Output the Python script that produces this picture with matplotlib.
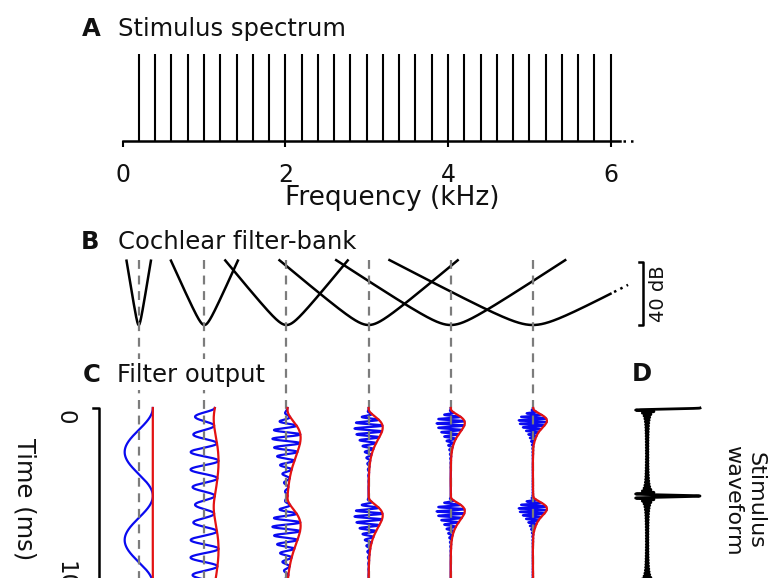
"""Harmonic complex through a cochlear filter-bank: spectrum, filters, channel outputs."""

import numpy as np
import matplotlib
import matplotlib.pyplot as plt

matplotlib.use("Agg")
plt.rcParams["font.family"] = "DejaVu Sans"

W, H = 768, 578

# Stimulus: harmonics of 200 Hz, equal level (kHz)
HARMONICS_KHZ = [0.2, 0.4, 0.6, 0.8, 1.0, 1.2, 1.4, 1.6, 1.8, 2.0,
                 2.2, 2.4, 2.6, 2.8, 3.0, 3.2, 3.4, 3.6, 3.8, 4.0,
                 4.2, 4.4, 4.6, 4.8, 5.0, 5.2, 5.4, 5.6, 5.8, 6.0]
SPECTRUM_LEVEL = 1.0
FREQ_TICKS = [0, 2, 4, 6]

# Filter-bank channels
FILTER_CF_KHZ = [0.2, 1.0, 2.0, 3.0, 4.0, 5.0]
FILTER_HALFWIDTH_KHZ = [0.146, 0.40, 0.73, 1.06, 1.36, 1.70]   # half-width at 40 dB
GAMMATONE_BW_KHZ = [0.047, 0.135, 0.28, 0.43, 0.56, 0.68]
LAST_ARM_END_KHZ = 5.96
SCALE_BAR_DB = 40

TIME_RANGE_MS = [0, 10]

BLUE = "#0a0af0"
RED = "#e31212"
GRAY = "#7c7c7c"
INK = "#111111"


def add_axes_px(fig, left, top, right, bottom):
    ax = fig.add_axes([left / W, 1 - bottom / H, (right - left) / W, (bottom - top) / H])
    ax.patch.set_visible(False)
    return ax


def span(lo_px, hi_px, origin_px, px_per_unit):
    return (lo_px - origin_px) / px_per_unit, (hi_px - origin_px) / px_per_unit


def filter_shape(f, cf, hw, e=0.15):
    u = (f - cf) / hw
    return SCALE_BAR_DB * (np.sqrt(u ** 2 + e ** 2) - e) / (np.sqrt(1 + e ** 2) - e)


def filter_output(cf, bw, t):
    """Steady-state gammatone response to the harmonic complex."""
    f = np.asarray(HARMONICS_KHZ)
    gain = (1 + 1j * (f - cf) / bw) ** -4
    z = (gain[:, None] * np.exp(2j * np.pi * (f - cf)[:, None] * t[None, :])).sum(axis=0)
    wave = np.real(z * np.exp(2j * np.pi * cf * t))
    return wave, np.abs(z)


fig = plt.figure(figsize=(W / 100, H / 100), dpi=100)


def fig_text(x, y, s, **kw):
    return fig.text(x / W, 1 - y / H, s, **kw)


# ── A: stimulus spectrum ──
axA = add_axes_px(fig, 100, 40, 660, 150)
axA.set_xlim(*span(100, 660, 122.7, 81.33))
axA.set_ylim(-(150 - 141) / 86.7, (141 - 40) / 86.7)
axA.vlines(HARMONICS_KHZ, 0, SPECTRUM_LEVEL, color="black", lw=1.5)
for side in ("left", "right", "top"):
    axA.spines[side].set_visible(False)
axA.spines["bottom"].set_position(("data", 0))
axA.spines["bottom"].set_bounds(0, 6.12)
axA.spines["bottom"].set_linewidth(1.8)
axA.plot([6.15, 6.34], [0, 0], color="black", lw=1.8, ls=(0, (1, 2)))
axA.set_yticks([])
axA.set_xticks(FREQ_TICKS)
axA.set_xticklabels([str(v) for v in FREQ_TICKS])
axA.tick_params(axis="x", direction="out", length=4.2, width=1.5, pad=11.5,
                labelsize=17, labelcolor=INK)
axA.set_xlabel("Frequency (kHz)", fontsize=19, color=INK, va="top")
axA.xaxis.set_label_coords((3.32 - axA.get_xlim()[0]) / np.diff(axA.get_xlim())[0],
                           (150 - 185) / 110)

# ── B: cochlear filter-bank ──
axB = add_axes_px(fig, 100, 250, 660, 335)
axB.set_xlim(*span(100, 660, 122.3, 82.1))
axB.set_ylim(-(335 - 325) / 1.575, (325 - 250) / 1.575)
axB.axis("off")
top_u = 1.035
for i, (cf, hw) in enumerate(zip(FILTER_CF_KHZ, FILTER_HALFWIDTH_KHZ)):
    hi = cf + top_u * hw
    if i == len(FILTER_CF_KHZ) - 1:
        hi = LAST_ARM_END_KHZ
        fd = np.linspace(hi + 0.03, hi + 0.2, 20)
        axB.plot(fd, filter_shape(fd, cf, hw), color="black", lw=1.8, ls=(0, (1, 1.8)))
    f = np.linspace(cf - top_u * hw, hi, 600)
    axB.plot(f, filter_shape(f, cf, hw), color="black", lw=1.8, solid_capstyle="butt")

bar_x = (643 - 122.3) / 82.1
tick_w = 4.5 / 82.1
axB.plot([bar_x - tick_w, bar_x, bar_x, bar_x - tick_w],
         [SCALE_BAR_DB, SCALE_BAR_DB, 0, 0], color="black", lw=1.8)
axB.text((658.5 - 122.3) / 82.1, SCALE_BAR_DB / 2, f"{SCALE_BAR_DB} dB", rotation=90,
         ha="center", va="center", fontsize=14, color=INK)

# ── C: filter outputs ──
px_per_ms, t0_px = 17.6, 408
axC = add_axes_px(fig, 100, 260, 660, 578)
axC.set_xlim(*span(100, 660, 122.3, 82.1))
axC.set_ylim((578 - t0_px) / px_per_ms, (260 - t0_px) / px_per_ms)
axC.axis("off")

t = np.linspace(TIME_RANGE_MS[0], TIME_RANGE_MS[1], 8001)
amp = 0.172
t_top, t_bot = axC.get_ylim()[1], axC.get_ylim()[0]
for cf, bw in zip(FILTER_CF_KHZ, GAMMATONE_BW_KHZ):
    wave, env = filter_output(cf, bw, t)
    scale = amp / env.max()
    axC.plot(cf + wave * scale, t, color=BLUE, lw=1.6, zorder=2)
    axC.plot([cf, cf], [t_top, t_bot], color=GRAY, lw=1.6, ls=(0, (4, 3)), zorder=3)
    axC.plot(cf + env * scale, t, color=RED, lw=1.6, zorder=4)

# time scale bar
axT = add_axes_px(fig, 0, 395, 110, 578)
axT.set_xlim(0, 110)
axT.set_ylim((578 - t0_px) / px_per_ms, (395 - t0_px) / px_per_ms)
axT.axis("off")
axT.plot([93, 99, 99], [TIME_RANGE_MS[0], TIME_RANGE_MS[0], TIME_RANGE_MS[1]],
         color="black", lw=1.8, clip_on=False)
axT.text(65, TIME_RANGE_MS[0] + 0.12, str(TIME_RANGE_MS[0]), rotation=270,
         ha="center", va="top", fontsize=16.5, color=INK)
axT.text(65, TIME_RANGE_MS[1] + 0.35, str(TIME_RANGE_MS[1]), rotation=270,
         ha="center", va="bottom", fontsize=16.5, color=INK)
axT.text(24, 5.2, "Time (ms)", rotation=270, ha="center", va="center",
         fontsize=17.5, color=INK)

# ── D: stimulus waveform ──
axD = add_axes_px(fig, 620, 395, 725, 578)
axD.set_xlim(*span(620, 725, 648, 52))
axD.set_ylim((578 - t0_px) / px_per_ms, (395 - t0_px) / px_per_ms)
axD.axis("off")
f = np.asarray(HARMONICS_KHZ)
stim = np.cos(2 * np.pi * f[:, None] * t[None, :]).sum(axis=0) / len(HARMONICS_KHZ)
axD.plot(stim, t, color="black", lw=2.0, solid_joinstyle="round")

# panel labels
title_kw = dict(fontsize=17.5, color=INK, va="baseline")
fig_text(82, 35.7, "A", fontweight="bold", **title_kw)
fig_text(117.7, 35.7, "Stimulus spectrum", **title_kw)
fig_text(81, 249, "B", fontweight="bold", **title_kw)
fig_text(117.7, 249, "Cochlear filter-bank", **title_kw)
fig_text(82.5, 381.7, "C", fontweight="bold", **title_kw)
fig_text(116.7, 381.7, "Filter output", zorder=10,
         bbox=dict(facecolor="white", edgecolor="none", pad=2.5), **title_kw)
fig_text(632, 380.7, "D", fontweight="bold", **title_kw)
fig_text(744, 500, "Stimulus\nwaveform", rotation=270, ha="center", va="center",
         multialignment="center", fontsize=16, color=INK, linespacing=1.15)

fig.savefig("out.png", dpi=100)
